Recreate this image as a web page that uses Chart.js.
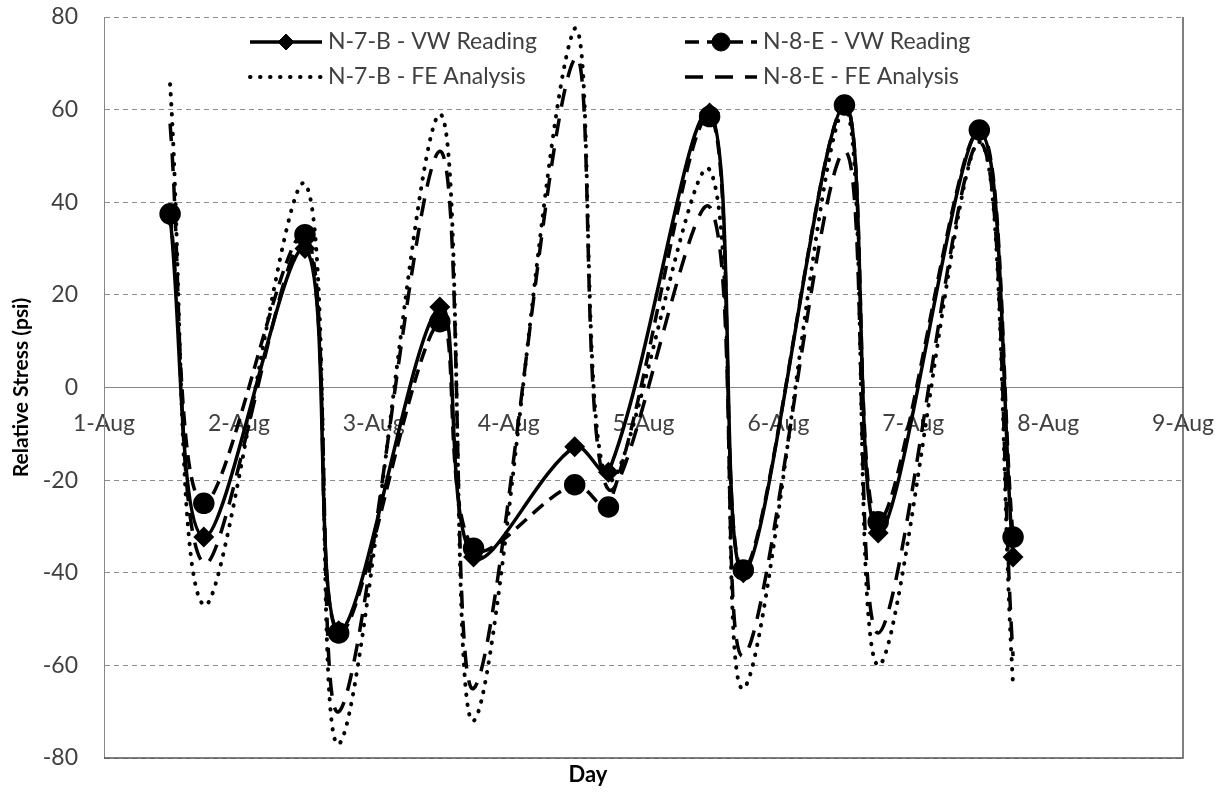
<!DOCTYPE html>
<html>
<head>
<meta charset="utf-8">
<script src="https://cdn.jsdelivr.net/npm/chart.js@4.4.0/dist/chart.umd.min.js"></script>
<style>
  html, body { margin: 0; padding: 0; background: #fff; }
  #wrap { width: 1230px; height: 793px; }
</style>
</head>
<body>
<div id="wrap"><canvas id="stressChart" width="1230" height="793"></canvas></div>
<script>
// reading times, in days of August (noon and late afternoon)
const readTimes = [1.49, 1.74, 2.49, 2.74, 3.49, 3.74, 4.49, 4.74, 5.49, 5.74, 6.49, 6.74, 7.49, 7.74];

const n7bVW = [37, -32.3, 30, -52.5, 17.4, -36.6, -12.8, -18.3, 59.3, -40, 61, -31.4, 55.2, -36.6];
const n8eVW = [37.5, -25, 33, -53, 14.2, -34.7, -21, -25.8, 58.5, -39.4, 61, -29, 55.6, -32.3];
const n7bFE = [65.5, -47, 44, -77, 59, -72, 77.5, -20, 47, -65, 60, -60, 53, -64];
const n8eFE = [57, -38, 32, -70, 51, -65, 71, -22, 39, -58, 51, -53, 53, -58];

const xTickLabels = ['1-Aug', '2-Aug', '3-Aug', '4-Aug', '5-Aug', '6-Aug', '7-Aug', '8-Aug', '9-Aug'];

const FONT = 'Lato, "Open Sans", sans-serif';
const TEXT_COLOR = '#404040';

function toPoints(values) {
    return values.map((v, i) => ({ x: readTimes[i], y: v }));
}

// bottom and right edges of the plot area
const plotFrame = {
    id: 'plotFrame',
    beforeDatasetsDraw(chart) {
        const { ctx, chartArea: a } = chart;
        ctx.save();
        ctx.strokeStyle = '#555';
        ctx.lineWidth = 1.5;
        ctx.beginPath();
        ctx.moveTo(a.left, a.bottom);
        ctx.lineTo(a.right, a.bottom);
        ctx.lineTo(a.right, a.top);
        ctx.stroke();
        ctx.restore();
    }
};

// legend sits inside the plot, 2 x 2
const insideLegend = {
    id: 'insideLegend',
    afterDatasetsDraw(chart) {
        const { ctx, chartArea: a } = chart;
        const cols = [a.left + 146, a.left + 581];
        const rows = [a.top + 25, a.top + 60];
        chart.data.datasets.forEach((ds, i) => {
            const x1 = cols[i % 2];
            const x2 = x1 + 72;
            const y = rows[Math.floor(i / 2)];
            ctx.save();
            ctx.strokeStyle = ds.borderColor;
            ctx.lineWidth = ds.borderWidth;
            ctx.lineCap = ds.borderCapStyle || 'butt';
            ctx.setLineDash(ds.borderDash || []);
            ctx.beginPath();
            ctx.moveTo(x1, y);
            ctx.lineTo(x2, y);
            ctx.stroke();
            ctx.restore();
            if (ds.pointRadius > 0) {
                ctx.save();
                ctx.fillStyle = '#000';
                ctx.strokeStyle = '#000';
                Chart.helpers.drawPoint(ctx, {
                    pointStyle: ds.pointStyle,
                    radius: ds.pointRadius,
                    borderWidth: 1,
                    rotation: 0
                }, (x1 + x2) / 2, y);
                ctx.restore();
            }
            ctx.save();
            ctx.fillStyle = TEXT_COLOR;
            ctx.font = '23px ' + FONT;
            ctx.textBaseline = 'middle';
            ctx.textAlign = 'left';
            ctx.fillText(ds.label, x2 + 6, y);
            ctx.restore();
        });
    }
};

// x title sits at the very bottom, under the frame
const dayTitle = {
    id: 'dayTitle',
    afterDraw(chart) {
        const { ctx, chartArea: a } = chart;
        ctx.save();
        ctx.fillStyle = '#000';
        ctx.font = 'bold 22px ' + FONT;
        ctx.textAlign = 'center';
        ctx.textBaseline = 'middle';
        ctx.fillText('Day', a.left + 484, a.bottom + 17);
        ctx.restore();
    }
};

const ctx = document.getElementById('stressChart');

new Chart(ctx, {
    type: 'line',
    data: {
        datasets: [{
            label: 'N-7-B - VW Reading',
            data: toPoints(n7bVW),
            borderColor: '#000',
            backgroundColor: '#000',
            borderWidth: 3.5,
            pointStyle: 'rectRot',
            pointRadius: 8,
            tension: 0.35
        }, {
            label: 'N-8-E - VW Reading',
            data: toPoints(n8eVW),
            borderColor: '#000',
            backgroundColor: '#000',
            borderWidth: 3.5,
            borderDash: [14, 8],
            pointStyle: 'circle',
            pointRadius: 9,
            tension: 0.35
        }, {
            label: 'N-7-B - FE Analysis',
            data: toPoints(n7bFE),
            borderColor: '#000',
            borderWidth: 4,
            borderDash: [0.5, 9.5],
            borderCapStyle: 'round',
            pointRadius: 0,
            tension: 0.35
        }, {
            label: 'N-8-E - FE Analysis',
            data: toPoints(n8eFE),
            borderColor: '#000',
            borderWidth: 3.5,
            borderDash: [18, 12],
            pointRadius: 0,
            tension: 0.35
        }]
    },
    options: {
        responsive: false,
        animation: false,
        layout: {
            padding: { left: 0, right: 47, top: 17, bottom: 35 }
        },
        plugins: {
            legend: { display: false },
            tooltip: { enabled: false }
        },
        scales: {
            x: {
                type: 'linear',
                min: 1,
                max: 9,
                position: { y: 0 },
                afterFit: s => { s.paddingLeft = 0; s.paddingRight = 0; },
                grid: { display: false, drawTicks: false },
                border: { display: true, color: '#878787', width: 1 },
                ticks: {
                    stepSize: 1,
                    autoSkip: false,
                    maxRotation: 0,
                    padding: 22,
                    color: TEXT_COLOR,
                    font: { family: FONT, size: 23 },
                    callback: v => xTickLabels[v - 1]
                }
            },
            y: {
                min: -80,
                max: 80,
                afterFit: s => { s.width = 104; s.paddingTop = 0; s.paddingBottom = 0; },
                grid: {
                    drawTicks: false,
                    color: c => (c.tick && c.tick.value === 0) ? 'rgba(0,0,0,0)' : '#8c8c8c'
                },
                border: { display: true, color: '#878787', width: 1, dash: [5, 4] },
                ticks: {
                    stepSize: 20,
                    padding: 26,
                    color: TEXT_COLOR,
                    font: { family: FONT, size: 23 }
                },
                title: {
                    display: true,
                    text: 'Relative Stress (psi)',
                    color: '#000',
                    font: { family: FONT, size: 21, weight: 'bold' },
                    padding: { top: 9, bottom: 0 }
                }
            }
        }
    },
    plugins: [plotFrame, insideLegend, dayTitle]
});
</script>
</body>
</html>
